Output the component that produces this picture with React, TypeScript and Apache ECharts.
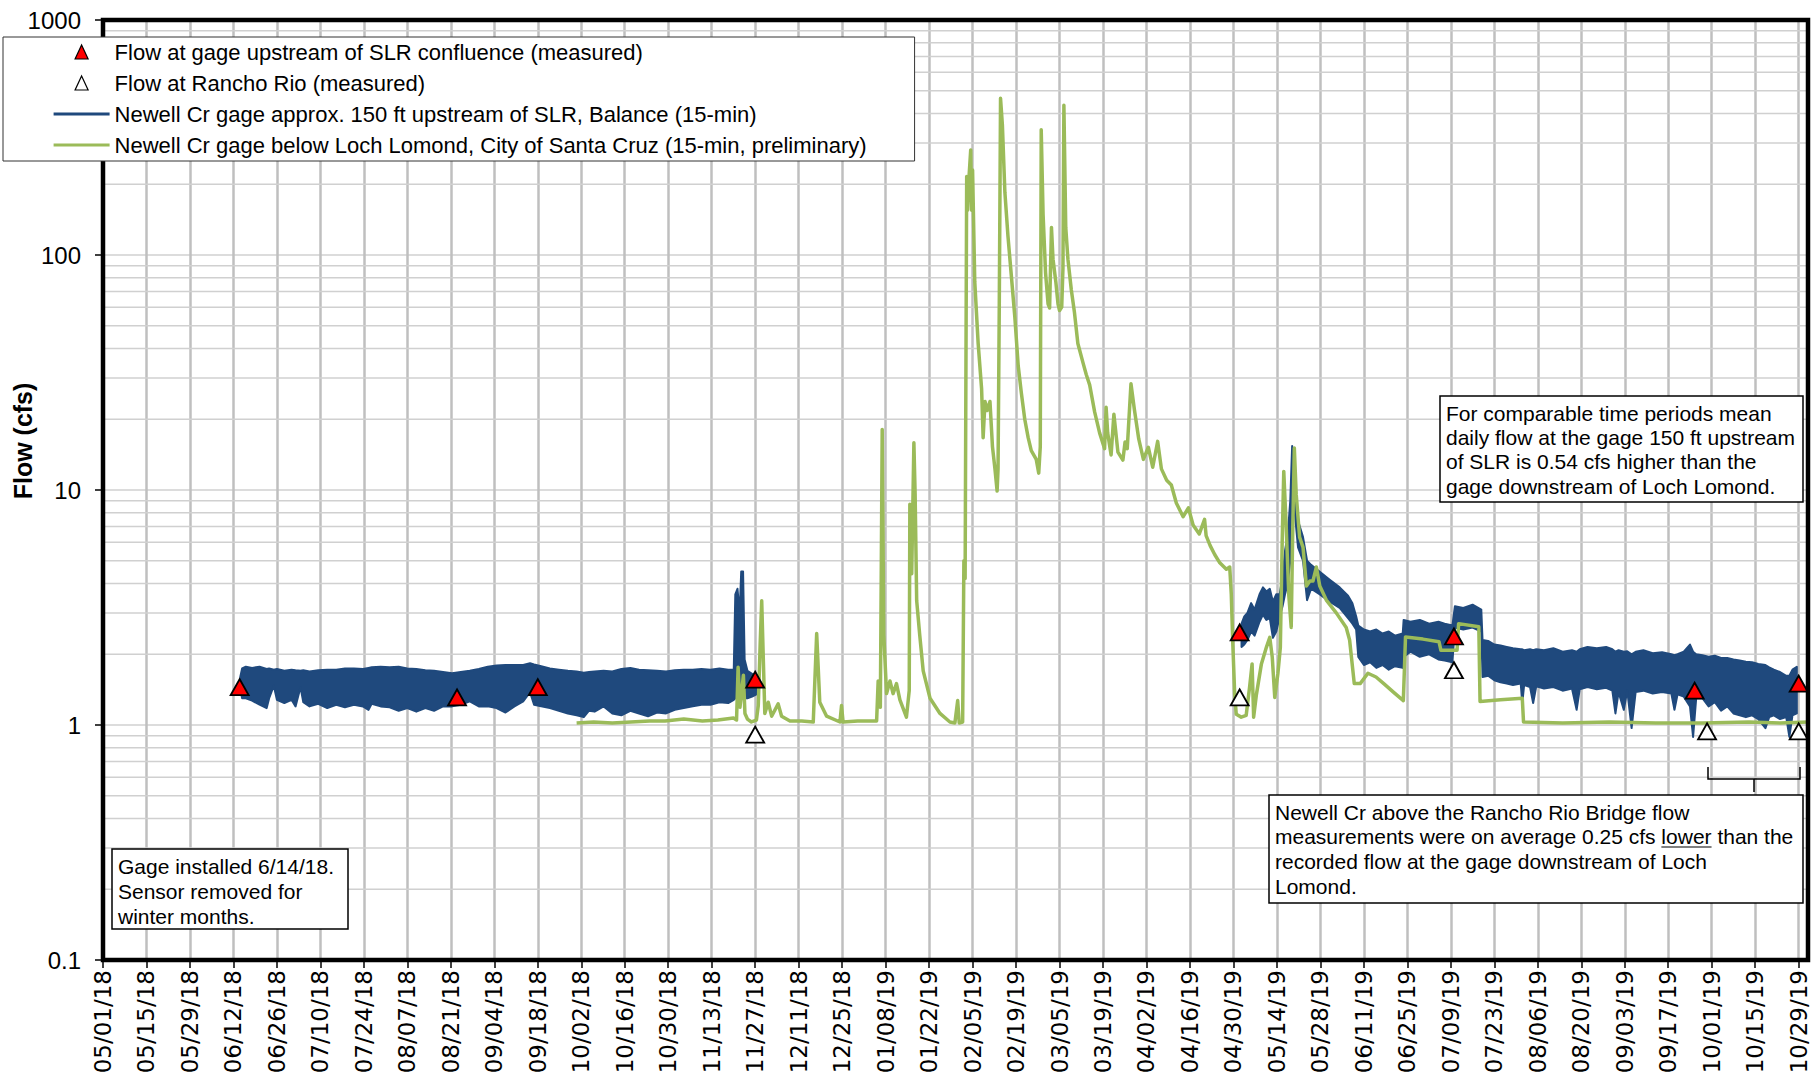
import React, { useEffect, useRef } from 'react';
import * as echarts from 'echarts';

// x values are days counted from 05/01/18
const START_UTC = Date.UTC(2018, 4, 1);
const DAY_MS = 86400000;
const X_MAX = 549;
const TICK_DAYS = 14;

const NAME_UPSTREAM = 'Flow at gage upstream of SLR confluence (measured)';
const NAME_RANCHO = 'Flow at Rancho Rio (measured)';
const NAME_BALANCE = 'Newell Cr gage approx. 150 ft upstream of SLR, Balance (15-min)';
const NAME_CITY = 'Newell Cr gage below Loch Lomond, City of Santa Cruz (15-min, preliminary)';

const BLUE = '#1f497d';
const GREEN = '#9bbb59';
const SANS = '"Liberation Sans", Arial, Helvetica, sans-serif';
const DATE_FONT = '"DejaVu Sans", "Liberation Sans", sans-serif';

// spot measurements [day, cfs]
const measuredUpstream = [
  [44, 1.45], [114, 1.31], [140, 1.45], [210, 1.56],
  [366, 2.48], [435, 2.38], [512.5, 1.4], [546, 1.5],
];
const measuredRanchoRio = [
  [210, 0.91], [366, 1.31], [435, 1.71], [516.5, 0.94], [546, 0.94],
];

// Balance gage: daily range of the 15-min record [day, low, high]
const balance2018 = [
  [44.2, 1.42, 1.6], [44.8, 1.3, 1.74], [46, 1.3, 1.77], [48, 1.27, 1.75], [50.4, 1.22, 1.77],
  [52.7, 1.18, 1.73], [53.5, 1.3, 1.74], [55, 1.47, 1.72], [56, 1.28, 1.73], [58.4, 1.24, 1.7],
  [60.7, 1.28, 1.72], [62, 1.2, 1.71], [63.6, 1.45, 1.7], [64.5, 1.25, 1.71], [66.5, 1.2, 1.69],
  [69.3, 1.23, 1.71], [72.2, 1.18, 1.72], [75.1, 1.22, 1.72], [77.9, 1.19, 1.74], [80.8, 1.22, 1.74],
  [83.7, 1.2, 1.73], [85.5, 1.16, 1.75], [86.5, 1.23, 1.76], [89.4, 1.2, 1.77], [92.3, 1.19, 1.76],
  [95.2, 1.15, 1.77], [98, 1.18, 1.74], [100.9, 1.14, 1.73], [103.8, 1.18, 1.71], [106.6, 1.15, 1.7],
  [109.5, 1.2, 1.68], [112.4, 1.2, 1.66], [115.2, 1.22, 1.68], [118.1, 1.26, 1.7], [121, 1.2, 1.73],
  [123.9, 1.2, 1.77], [126.7, 1.18, 1.79], [129.6, 1.13, 1.8], [132.5, 1.2, 1.8], [135.3, 1.26, 1.8],
  [137.5, 1.38, 1.83], [138.8, 1.22, 1.81], [141.1, 1.2, 1.78], [143.9, 1.18, 1.74], [146.8, 1.15, 1.72],
  [149.7, 1.12, 1.7], [152.5, 1.1, 1.69], [154.8, 1.08, 1.67], [156.5, 1.15, 1.68], [158.3, 1.14, 1.69],
  [161.2, 1.2, 1.7], [164, 1.12, 1.69], [166.9, 1.1, 1.73], [169.8, 1.15, 1.75], [172.6, 1.12, 1.72],
  [175.5, 1.09, 1.71], [178.4, 1.13, 1.7], [181.3, 1.12, 1.69], [184.1, 1.16, 1.71], [187, 1.18, 1.72],
  [189.9, 1.2, 1.72], [192.7, 1.22, 1.73], [195.6, 1.22, 1.72], [198.5, 1.25, 1.74], [201.3, 1.24, 1.72],
  [203.1, 1.28, 1.72], [203.6, 1.3, 3.6], [204.3, 1.3, 3.8], [205.0, 1.35, 3.0], [205.5, 1.4, 4.5],
  [206.1, 1.35, 4.5], [206.6, 1.3, 1.9], [207.5, 1.3, 1.7], [209, 1.32, 1.65], [210.4, 1.35, 1.6],
];
const balance2019 = [
  [366.6, 2.15, 2.7], [367.5, 2.2, 2.9], [368.5, 2.3, 3.0], [369.7, 2.5, 3.3], [370.8, 2.4, 3.1],
  [372.4, 2.75, 3.6], [373.5, 2.95, 3.85], [374.6, 2.8, 3.7], [375.7, 2.85, 3.8], [376.7, 2.35, 3.35],
  [377.8, 2.5, 3.6], [378.9, 2.9, 3.6], [379.8, 3.2, 4.3], [380.6, 3.6, 5.5], [381.5, 4.0, 6.5],
  [382.3, 5.0, 9.0], [382.9, 9.0, 15.4], [383.7, 8.1, 11.3], [384.8, 5.7, 7.4], [386.4, 5.0, 6.3],
  [387.7, 3.4, 5.0], [389, 3.8, 4.8], [391.7, 3.6, 4.5], [395, 3.35, 4.15], [398.2, 3.15, 3.85],
  [400.9, 2.85, 3.55], [402.3, 2.7, 3.3], [403.5, 2.55, 2.9], [404.2, 1.95, 2.65], [406, 1.8, 2.55],
  [408, 1.85, 2.5], [410, 1.75, 2.55], [412, 1.8, 2.45], [414, 1.72, 2.5], [416, 1.78, 2.4],
  [418.5, 1.75, 2.45], [418.8, 1.95, 2.8], [421, 2.05, 2.75], [424, 1.95, 2.8], [427, 2.0, 2.7],
  [430, 1.9, 2.75], [432, 1.88, 2.7], [434.5, 1.85, 2.65], [435.3, 2.6, 3.2], [438, 2.55, 3.15],
  [441, 2.6, 3.25], [443.8, 2.5, 3.1], [444.2, 1.6, 2.3], [446, 1.62, 2.28], [448, 1.55, 2.2],
  [450, 1.52, 2.18], [452, 1.5, 2.15], [454, 1.48, 2.12], [456.5, 1.5, 2.1], [457, 1.24, 2.1],
  [457.6, 1.48, 2.08], [459.5, 1.45, 2.1], [460.5, 1.24, 2.08], [461.5, 1.46, 2.1], [464, 1.43, 2.08],
  [467, 1.45, 2.12], [470, 1.4, 2.05], [473, 1.43, 2.08], [474.5, 1.16, 2.05], [475.5, 1.42, 2.1],
  [478, 1.45, 2.15], [481, 1.42, 2.12], [484, 1.44, 2.15], [486, 1.4, 2.1], [487, 1.12, 2.05],
  [488, 1.38, 2.08], [489.7, 1.16, 2.05], [490.8, 1.4, 2.06], [492.2, 0.97, 2.0], [493.5, 1.38, 2.05],
  [496, 1.4, 2.08], [499, 1.36, 2.02], [502, 1.38, 2.04], [505, 1.36, 2.0], [506, 1.16, 1.98],
  [507, 1.35, 2.0], [509, 1.32, 2.05], [511, 1.2, 2.2], [512, 0.89, 2.05], [513, 1.3, 2.0],
  [515, 1.3, 1.98], [517, 1.2, 1.95], [519, 1.25, 1.97], [521, 1.15, 1.93], [523, 1.2, 1.93],
  [525, 1.12, 1.9], [527, 1.1, 1.88], [529, 1.08, 1.86], [531, 1.1, 1.85], [533, 1.06, 1.82],
  [535.3, 0.97, 1.8], [536.5, 1.08, 1.76], [538, 1.1, 1.72], [540, 1.06, 1.68], [542, 1.08, 1.62],
  [543, 0.89, 1.62], [544, 1.1, 1.72], [545.4, 1.12, 1.77],
];
const balanceRuns = [balance2018, balance2019];

// City of Santa Cruz gage below Loch Lomond [day, cfs]
const cityGage = [
  [152.5, 1.02], [158, 1.03], [164, 1.02], [170, 1.03], [176, 1.04], [181, 1.04], [187, 1.06],
  [193, 1.04], [198, 1.05], [203, 1.07], [204.0, 1.05], [204.5, 1.76], [205.1, 1.19], [205.7, 1.4],
  [206.2, 1.63], [206.7, 1.12], [207.5, 1.06], [208.8, 1.03], [210.4, 1.05], [211.0, 1.21],
  [211.6, 2.2], [212.1, 3.38], [212.6, 1.94], [213.1, 1.12], [214.2, 1.25], [215.3, 1.09],
  [217.4, 1.23], [218.5, 1.09], [221.2, 1.04], [225, 1.04], [228.7, 1.03], [229.8, 2.45],
  [230.8, 1.25], [233.0, 1.09], [237.3, 1.03], [237.8, 1.21], [238.3, 1.03], [243, 1.04],
  [249.1, 1.04], [249.6, 1.54], [250.3, 1.19], [250.9, 18.1], [251.4, 2.44], [252.3, 1.36],
  [253.4, 1.54], [254.4, 1.36], [255.5, 1.5], [256.6, 1.28], [258.7, 1.08], [259.6, 1.4],
  [259.8, 8.7], [260.4, 4.4], [261.1, 15.9], [261.5, 9.6], [262.0, 3.38], [263.0, 2.4],
  [264.1, 1.7], [266.3, 1.3], [269.5, 1.12], [272.7, 1.03], [274.3, 1.02], [275.2, 1.27],
  [275.7, 1.02], [276.8, 1.03], [277.2, 5.0], [277.6, 4.2], [278.1, 216], [278.4, 155],
  [278.9, 220], [279.4, 280], [279.7, 155], [280.0, 230], [280.7, 77], [281.8, 42], [282.9, 27],
  [283.4, 16.7], [284.0, 23.8], [284.7, 21.8], [285.6, 23.8], [286.4, 15.3], [287.2, 12.3],
  [287.9, 9.9], [288.2, 12.3], [288.6, 62], [289.0, 464], [289.6, 357], [290.4, 185], [291.4, 120],
  [292.5, 81], [293.6, 54.5], [294.7, 33.7], [295.7, 25.9], [296.8, 20], [297.9, 16.7],
  [298.9, 14.7], [300.5, 13.5], [301.3, 11.8], [301.8, 15.3], [302.1, 341], [302.7, 149],
  [303.5, 84], [304.3, 62], [304.8, 59.5], [305.4, 131], [305.9, 96], [306.8, 77], [307.5, 62],
  [308.0, 58], [308.7, 60], [309.1, 88], [309.4, 434], [310.0, 131], [310.7, 96], [311.8, 71],
  [312.8, 57], [313.9, 42], [315.5, 35], [316.6, 31], [317.7, 28], [319.3, 21.5], [320.9, 17.5],
  [322.5, 15], [323.0, 22.5], [323.5, 17.5], [324.6, 14.1], [325.5, 21], [326.8, 14.5],
  [328.4, 13.4], [329.1, 16], [329.8, 15], [331.0, 28.3], [332.1, 22], [333.5, 16.5], [335.0, 13.5],
  [336.6, 15.2], [338.0, 12.5], [339.6, 16.1], [340.8, 12.3], [342.5, 11], [344, 10.5],
  [345.6, 8.8], [347.8, 7.7], [349.5, 8.4], [351, 7.1], [353, 6.5], [354.7, 7.5], [355.2, 6.4],
  [356.5, 5.8], [358, 5.3], [359.6, 4.9], [361.7, 4.6], [362.8, 4.7], [363.3, 3.6], [363.8, 2.2],
  [364.4, 1.35], [364.9, 1.11], [366.5, 1.08], [368.1, 1.1], [369.2, 1.45], [370.0, 1.82],
  [370.5, 1.08], [371.4, 1.35], [373.0, 1.82], [374.6, 2.14], [375.7, 2.36], [376.5, 1.94],
  [377.3, 1.31], [378.3, 1.65], [379.1, 2.14], [379.7, 6.1], [380.2, 12.0], [381.0, 6.9],
  [381.8, 3.6], [382.6, 2.6], [383.1, 6.9], [383.6, 15.1], [384.2, 9.6], [385.3, 6.3], [386.4, 5.7],
  [387.5, 3.9], [388.6, 4.1], [389.6, 4.1], [390.7, 4.7], [391.8, 3.9], [393.9, 3.4], [397.1, 3.0],
  [400.3, 2.6], [401.4, 2.3], [402.9, 1.5], [404.8, 1.5], [407.3, 1.66], [409.9, 1.6],
  [412.4, 1.5], [415.5, 1.38], [418.7, 1.27], [419.4, 2.37], [425, 2.32], [430.2, 2.26],
  [430.8, 2.08], [436.0, 2.08], [436.5, 2.7], [443.0, 2.62], [443.4, 1.26], [450, 1.28],
  [457.0, 1.3], [457.4, 1.03], [470, 1.02], [485, 1.03], [500, 1.02], [515, 1.02], [530, 1.03],
  [540, 1.02], [549, 1.03],
];

// log-axis minor gridlines (2..9 of each decade)
const minorGridValues = [
  0.2, 0.3, 0.4, 0.5, 0.6, 0.7, 0.8, 0.9,
  2, 3, 4, 5, 6, 7, 8, 9,
  20, 30, 40, 50, 60, 70, 80, 90,
  200, 300, 400, 500, 600, 700, 800, 900,
];

const NOTE_UPSTREAM = [
  'For comparable time periods mean',
  'daily flow at the gage 150 ft upstream',
  'of SLR is 0.54 cfs higher than the',
  'gage downstream of Loch Lomond.',
];
const NOTE_RANCHO = [
  'Newell Cr above the Rancho Rio Bridge flow',
  'measurements were on average 0.25 cfs lower than the',
  'recorded flow at the gage downstream of Loch',
  'Lomond.',
];
const NOTE_GAGE = ['Gage installed 6/14/18.', 'Sensor removed for', 'winter months.'];

// legend icons drawn inside a fixed 56x14 box
const TRI_ICON = 'path://M0,0M56,14M28,0L34.5,14L21.5,14Z';
const LINE_ICON = 'path://M0,0M56,14M0,5.5H56V8.5H0Z';

function formatDay(d: number): string {
  const t = new Date(START_UTC + Math.round(d) * DAY_MS);
  const mm = String(t.getUTCMonth() + 1).padStart(2, '0');
  const dd = String(t.getUTCDate()).padStart(2, '0');
  const yy = String(t.getUTCFullYear() % 100).padStart(2, '0');
  return `${mm}/${dd}/${yy}`;
}

function measure(text: string, font: string): number {
  const ctx = document.createElement('canvas').getContext('2d');
  if (!ctx) return text.length * 10;
  ctx.font = font;
  return ctx.measureText(text).width;
}

function noteBox(x: number, y: number, w: number, h: number, lines: string[], lineHeight: number) {
  return [
    {
      type: 'rect', silent: true, z: 55,
      shape: { x, y, width: w, height: h },
      style: { fill: '#fff', stroke: '#000', lineWidth: 1.5 },
    },
    {
      type: 'text', silent: true, z: 56, x: x + 6, y: y + 5,
      style: {
        text: lines.join('\n'), fill: '#000', fontFamily: SANS, fontSize: 21,
        lineHeight, verticalAlign: 'top', align: 'left',
      },
    },
  ];
}

export default function App() {
  const ref = useRef<HTMLDivElement>(null);

  useEffect(() => {
    if (!ref.current) return;
    const chart = echarts.init(ref.current, null, { renderer: 'svg' });

    const noteFont = `21px ${SANS}`;
    const lowerX = 1275 + measure('measurements were on average 0.25 cfs ', noteFont);
    const lowerW = measure('lower', noteFont);

    const option: any = {
      animation: false,
      backgroundColor: '#fff',
      grid: { left: 103, right: 9, top: 20, bottom: 124, show: false },
      legend: {
        orient: 'vertical', left: 3, top: 37,
        padding: [4, 48, 5, 50],
        itemWidth: 56, itemHeight: 14, itemGap: 9,
        backgroundColor: '#fff', borderColor: '#333', borderWidth: 1,
        selectedMode: false, z: 60,
        textStyle: { fontFamily: SANS, fontSize: 22, lineHeight: 22, color: '#000' },
        data: [
          { name: NAME_UPSTREAM, icon: TRI_ICON, itemStyle: { color: '#ff0000', borderColor: '#000', borderWidth: 1.2 } },
          { name: NAME_RANCHO, icon: TRI_ICON, itemStyle: { color: '#fff', borderColor: '#000', borderWidth: 1.2 } },
          { name: NAME_BALANCE, icon: LINE_ICON, itemStyle: { color: BLUE, borderWidth: 0 } },
          { name: NAME_CITY, icon: LINE_ICON, itemStyle: { color: GREEN, borderWidth: 0 } },
        ],
      },
      xAxis: {
        type: 'value', min: 0, max: X_MAX, interval: TICK_DAYS,
        axisLine: { show: false },
        axisTick: { show: true, length: 8, lineStyle: { color: '#000', width: 1.5 } },
        axisLabel: {
          rotate: 90, margin: 10, showMaxLabel: false, color: '#000',
          fontFamily: DATE_FONT, fontSize: 23,
          formatter: (v: number) => formatDay(v),
        },
        splitLine: { show: true, lineStyle: { color: '#bfbfbf', width: 2.5 } },
      },
      yAxis: {
        type: 'log', logBase: 10, min: 0.1, max: 1000,
        axisLine: { show: false },
        axisTick: { show: true, length: 8, lineStyle: { color: '#000', width: 1.5 } },
        axisLabel: {
          margin: 22, color: '#000', fontFamily: SANS, fontSize: 24,
          formatter: (v: number) => String(parseFloat(Number(v).toPrecision(4))),
        },
        splitLine: { show: true, lineStyle: { color: '#d0d0d0', width: 1.5 } },
      },
      series: [
        {
          name: 'minor-grid', type: 'custom', silent: true, z: 1,
          data: minorGridValues.map((v) => [0, v]),
          encode: { x: 0, y: 1 },
          renderItem: (_params: any, api: any) => {
            const v = api.value(1);
            const a = api.coord([0, v]);
            const b = api.coord([X_MAX, v]);
            return {
              type: 'line',
              shape: { x1: a[0], y1: a[1], x2: b[0], y2: b[1] },
              style: { stroke: '#d0d0d0', lineWidth: 1.5 },
            };
          },
        },
        {
          name: NAME_BALANCE, type: 'custom', z: 3,
          itemStyle: { color: BLUE },
          data: balanceRuns.map((run) => [run[0][0], run[0][2]]),
          encode: { x: 0, y: 1 },
          renderItem: (params: any, api: any) => {
            const run = balanceRuns[params.dataIndex];
            const upper = run.map((p) => api.coord([p[0], p[2]]));
            const lower = run.slice().reverse().map((p) => api.coord([p[0], p[1]]));
            return {
              type: 'polygon',
              shape: { points: upper.concat(lower) },
              style: { fill: BLUE, stroke: BLUE, lineWidth: 2, lineJoin: 'round' },
            };
          },
        },
        {
          name: NAME_CITY, type: 'line', z: 4,
          data: cityGage,
          symbol: 'none', showSymbol: false,
          lineStyle: { color: GREEN, width: 3.5, join: 'round' },
          itemStyle: { color: GREEN },
        },
        {
          name: NAME_UPSTREAM, type: 'scatter', z: 6,
          data: measuredUpstream,
          symbol: 'triangle', symbolSize: [18, 16],
          itemStyle: { color: '#ff0000', borderColor: '#000', borderWidth: 1.8, opacity: 1 },
        },
        {
          name: NAME_RANCHO, type: 'scatter', z: 6,
          data: measuredRanchoRio,
          symbol: 'triangle', symbolSize: [18, 16],
          itemStyle: { color: '#fff', borderColor: '#000', borderWidth: 1.8, opacity: 1 },
        },
      ],
      graphic: [
        {
          type: 'rect', silent: true, z: 50,
          shape: { x: 103, y: 20, width: 1705, height: 940 },
          style: { fill: 'none', stroke: '#000', lineWidth: 4.5 },
        },
        {
          type: 'text', silent: true, z: 50, x: 23, y: 441, rotation: Math.PI / 2,
          style: {
            text: 'Flow (cfs)', fill: '#000', fontFamily: SANS, fontSize: 25,
            fontWeight: 'bold', align: 'center', verticalAlign: 'middle',
          },
        },
        ...noteBox(1440, 396, 363, 106, NOTE_UPSTREAM, 24.3),
        ...noteBox(1269, 795, 534, 108, NOTE_RANCHO, 24.6),
        ...noteBox(112, 849, 236, 80, NOTE_GAGE, 25),
        {
          type: 'line', silent: true, z: 57,
          shape: { x1: lowerX, y1: 847, x2: lowerX + lowerW, y2: 847 },
          style: { stroke: '#000', lineWidth: 1.2 },
        },
        {
          type: 'polyline', silent: true, z: 55,
          shape: { points: [[1708, 767], [1708, 779], [1800, 779], [1800, 767]] },
          style: { stroke: '#000', lineWidth: 1.5, fill: 'none' },
        },
        {
          type: 'line', silent: true, z: 55,
          shape: { x1: 1754, y1: 779, x2: 1754, y2: 792 },
          style: { stroke: '#000', lineWidth: 1.5 },
        },
      ],
    };

    chart.setOption(option);
    return () => chart.dispose();
  }, []);

  return (
    <div
      ref={ref}
      style={{ position: 'fixed', left: 0, top: 0, width: 1817, height: 1084, background: '#fff' }}
    />
  );
}
